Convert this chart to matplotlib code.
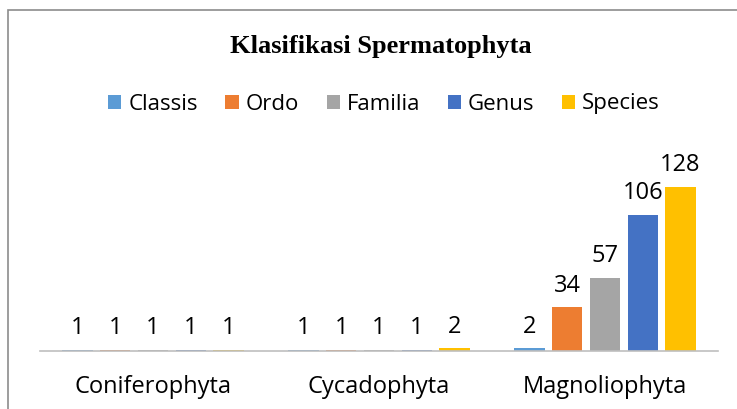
import numpy as np
import matplotlib.pyplot as plt
from matplotlib.patches import Rectangle

divisi = ['Coniferophyta', 'Cycadophyta', 'Magnoliophyta']
classis = [1, 1, 2]
ordo = [1, 1, 34]
familia = [1, 1, 57]
genus = [1, 1, 106]
species = [1, 2, 128]

series = [('Classis', classis, '#5B9BD5'),
          ('Ordo', ordo, '#ED7D31'),
          ('Familia', familia, '#A5A5A5'),
          ('Genus', genus, '#4472C4'),
          ('Species', species, '#FFC000')]

plt.rcParams['font.family'] = ['Open Sans', 'DejaVu Sans']

fig = plt.figure(figsize=(7.37, 4.09), dpi=100)
# chart border (right/bottom edges run off the picture)
fig.patches.append(Rectangle((8/737, -0.1), 1.2, 1 - 10/409 + 0.1,
                             transform=fig.transFigure, fill=False,
                             edgecolor='#8c8c8c', linewidth=1.2))

ax = fig.add_axes([40/737, 1 - 351/409, 678/737, 205/409])
x = np.arange(len(divisi))
w = 0.133
step = 0.167
for i, (name, vals, col) in enumerate(series):
  pos = x + (i - 2) * step
  bars = ax.bar(pos, vals, w, color=col, label=name)
  for b, v in zip(bars, vals):
    ax.annotate(str(v), (b.get_x() + b.get_width()/2, v), xytext=(0, 7),
                textcoords='offset points', ha='center', va='bottom',
                fontsize=17)

ax.set_xlim(-0.5, 2.5)
ax.set_ylim(0, 160)
ax.set_yticks([])
ax.set_xticks(x)
ax.set_xticklabels(divisi, fontsize=17)
ax.tick_params(axis='x', length=0, pad=17)
for s in ['top', 'right', 'left']:
  ax.spines[s].set_visible(False)
ax.spines['bottom'].set_color('#bfbfbf')
ax.spines['bottom'].set_linewidth(1.2)

fig.text(381/737, 1 - 47/409, 'Klasifikasi Spermatophyta', ha='center',
         va='center', fontsize=19, fontweight='bold', family='Liberation Serif')
fig.legend(loc='center', bbox_to_anchor=(384/737, 1 - 104/409), ncol=5,
           frameon=False, fontsize=16, handlelength=0.6, handleheight=0.6,
           handletextpad=0.3, columnspacing=1.25)

fig.savefig('out.png', dpi=100)
